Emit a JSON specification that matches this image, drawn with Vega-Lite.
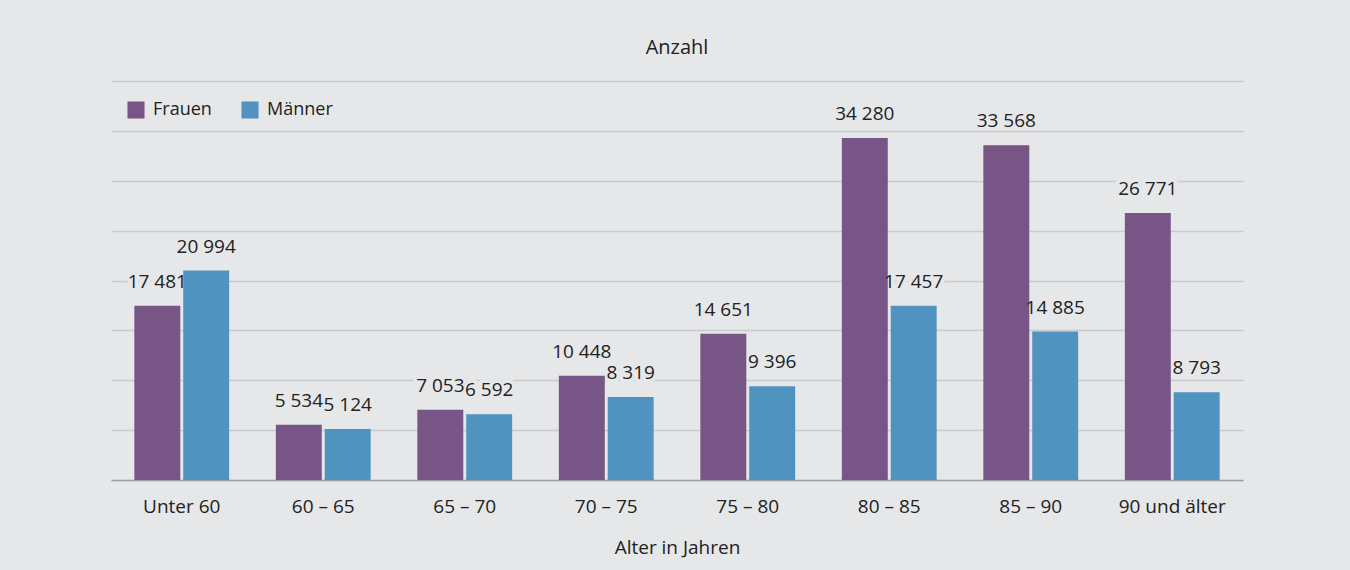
{
  "$schema": "https://vega.github.io/schema/vega-lite/v6.json",
  "width": 1132,
  "height": 399,
  "autosize": {"type": "none"},
  "padding": {"left": 111, "top": 81, "right": 107, "bottom": 90},
  "background": "#e6e7e9",
  "title": {"text": "Anzahl", "fontSize": 20, "fontWeight": "normal", "color": "#222222", "font": "Open Sans", "offset": 23, "anchor": "middle"},
  "config": {
    "locale": {"number": {"decimal": ",", "thousands": "\u00a0", "grouping": [3], "currency": ["", " €"]}},
    "view": {"stroke": null},
    "font": "Open Sans"
  },
  "data": {"values": [
    {"alter": "Unter 60", "geschlecht": "Frauen", "anzahl": 17481},
    {"alter": "Unter 60", "geschlecht": "Männer", "anzahl": 20994},
    {"alter": "60 – 65", "geschlecht": "Frauen", "anzahl": 5534},
    {"alter": "60 – 65", "geschlecht": "Männer", "anzahl": 5124},
    {"alter": "65 – 70", "geschlecht": "Frauen", "anzahl": 7053},
    {"alter": "65 – 70", "geschlecht": "Männer", "anzahl": 6592},
    {"alter": "70 – 75", "geschlecht": "Frauen", "anzahl": 10448},
    {"alter": "70 – 75", "geschlecht": "Männer", "anzahl": 8319},
    {"alter": "75 – 80", "geschlecht": "Frauen", "anzahl": 14651},
    {"alter": "75 – 80", "geschlecht": "Männer", "anzahl": 9396},
    {"alter": "80 – 85", "geschlecht": "Frauen", "anzahl": 34280},
    {"alter": "80 – 85", "geschlecht": "Männer", "anzahl": 17457},
    {"alter": "85 – 90", "geschlecht": "Frauen", "anzahl": 33568},
    {"alter": "85 – 90", "geschlecht": "Männer", "anzahl": 14885},
    {"alter": "90 und älter", "geschlecht": "Frauen", "anzahl": 26771},
    {"alter": "90 und älter", "geschlecht": "Männer", "anzahl": 8793}
  ]},
  "encoding": {
    "x": {
      "field": "alter", "type": "nominal", "sort": null,
      "scale": {"paddingInner": 0.33, "paddingOuter": 0.165},
      "axis": {
        "title": "Alter in Jahren", "labelAngle": 0, "ticks": false,
        "domainColor": "#9a9b9d", "domainWidth": 1.5,
        "labelFontSize": 19, "labelColor": "#222222", "labelPadding": 17,
        "titleFontSize": 19, "titleFontWeight": "normal", "titleColor": "#222222", "titlePadding": 22
      }
    },
    "xOffset": {"field": "geschlecht", "type": "nominal", "scale": {"paddingInner": 0.06}},
    "y": {
      "field": "anzahl", "type": "quantitative",
      "scale": {"domain": [0, 40000], "nice": false},
      "axis": {
        "title": null, "labels": false, "ticks": false, "domain": false,
        "values": [5000, 10000, 15000, 20000, 25000, 30000, 35000, 40000],
        "gridColor": "#c9cacc", "gridWidth": 1.5
      }
    }
  },
  "layer": [
    {
      "mark": {"type": "text", "baseline": "alphabetic", "dy": -18, "fontSize": 19, "color": "#e6e7e9", "stroke": "#e6e7e9", "strokeWidth": 8, "strokeJoin": "round"},
      "encoding": {
        "text": {"field": "anzahl", "type": "quantitative", "format": ",d"}
      }
    },
    {
      "mark": {"type": "bar"},
      "encoding": {
        "color": {
          "field": "geschlecht", "type": "nominal",
          "scale": {"domain": ["Frauen", "Männer"], "range": ["#785587", "#5093be"]},
          "legend": {
            "title": null, "orient": "none", "direction": "horizontal", "legendX": 16, "legendY": 20,
            "symbolType": "square", "symbolSize": 290, "symbolStrokeWidth": 0, "symbolOpacity": 1,
            "labelFontSize": 18, "labelColor": "#222222", "columnPadding": 29, "labelOffset": 8
          }
        }
      }
    },
    {
      "mark": {"type": "text", "baseline": "alphabetic", "dy": -18, "fontSize": 19, "color": "#222222"},
      "encoding": {
        "text": {"field": "anzahl", "type": "quantitative", "format": ",d"}
      }
    }
  ]
}
